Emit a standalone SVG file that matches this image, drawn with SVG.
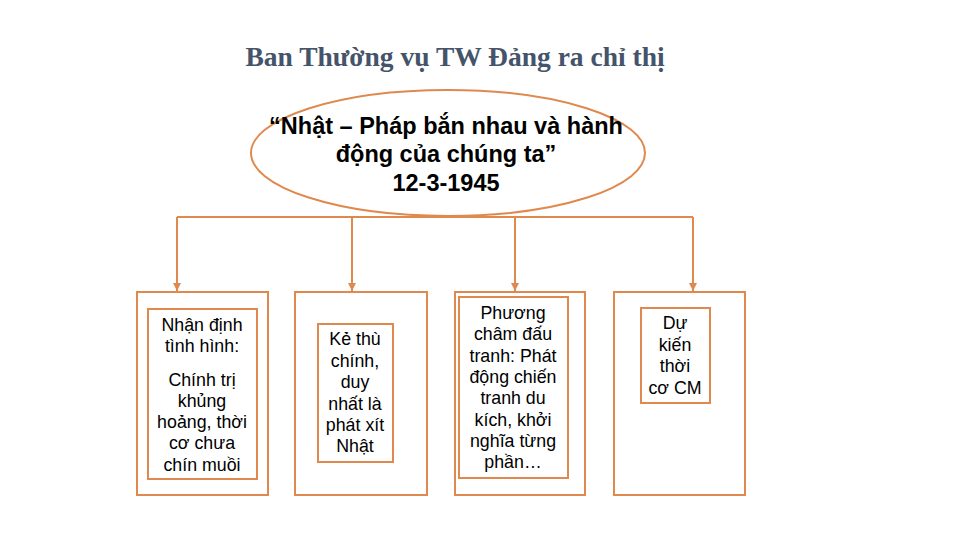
<svg xmlns="http://www.w3.org/2000/svg" width="960" height="540" viewBox="0 0 960 540">
<style>
.box{fill:#fff;stroke:#E0894E;stroke-width:2}
.line{fill:none;stroke:#E0894E;stroke-width:2}
.t{font-family:"Liberation Sans",Arial,sans-serif;font-size:17.8px;fill:#000;text-anchor:middle}
.e{font-family:"Liberation Sans",Arial,sans-serif;font-size:23.5px;font-weight:bold;fill:#000;text-anchor:middle}
.title{font-family:"Liberation Serif","Times New Roman",serif;font-size:27.5px;font-weight:bold;fill:#44546A;text-anchor:middle}
</style>
<defs>
<marker id="arr" viewBox="0 0 10 10" refX="10" refY="5" markerWidth="4" markerHeight="4" orient="auto">
<path d="M0,0 L10,5 L0,10 z" fill="#E0894E"/>
</marker>
</defs>
<rect width="960" height="540" fill="#fff"/>
<text class="title" x="455" y="66">Ban Thường vụ TW Đảng ra chỉ thị</text>
<g id="connectors">
<path class="line" d="M177,217 H693"/>
<path class="line" d="M177,217 V291" marker-end="url(#arr)"/>
<path class="line" d="M352,217 V291" marker-end="url(#arr)"/>
<path class="line" d="M515,217 V291" marker-end="url(#arr)"/>
<path class="line" d="M693,217 V291" marker-end="url(#arr)"/>
</g>
<g id="ellipse">
<ellipse class="box" cx="448" cy="153" rx="197" ry="63"/>
<text class="e" x="446" y="134">“Nhật – Pháp bắn nhau và hành</text>
<text class="e" x="446" y="162">động của chúng ta”</text>
<text class="e" x="446" y="191">12-3-1945</text>
</g>
<g id="node1">
<rect class="box" x="137" y="292" width="131" height="203"/>
<rect class="box" x="148" y="309" width="109" height="170"/>
<text class="t" x="202" y="331">Nhận định</text>
<text class="t" x="202" y="352">tình hình:</text>
<text class="t" x="202" y="386">Chính trị</text>
<text class="t" x="202" y="407">khủng</text>
<text class="t" x="202" y="428">hoảng, thời</text>
<text class="t" x="202" y="449">cơ chưa</text>
<text class="t" x="202" y="471">chín muồi</text>
</g>
<g id="node2">
<rect class="box" x="295" y="292" width="132" height="203"/>
<rect class="box" x="318" y="324" width="75" height="138"/>
<text class="t" x="355" y="345">Kẻ thù</text>
<text class="t" x="355" y="367">chính,</text>
<text class="t" x="355" y="388">duy</text>
<text class="t" x="355" y="410">nhất là</text>
<text class="t" x="355" y="431">phát xít</text>
<text class="t" x="355" y="452">Nhật</text>
</g>
<g id="node3">
<rect class="box" x="455" y="292" width="130" height="203"/>
<rect class="box" x="459" y="297" width="109" height="181"/>
<text class="t" x="513" y="319">Phương</text>
<text class="t" x="513" y="340">châm đấu</text>
<text class="t" x="513" y="362">tranh: Phát</text>
<text class="t" x="513" y="383">động chiến</text>
<text class="t" x="513" y="404">tranh du</text>
<text class="t" x="513" y="426">kích, khởi</text>
<text class="t" x="513" y="447">nghĩa từng</text>
<text class="t" x="513" y="468">phần…</text>
</g>
<g id="node4">
<rect class="box" x="614" y="292" width="131" height="203"/>
<rect class="box" x="641" y="308" width="69" height="95"/>
<text class="t" x="675" y="329">Dự</text>
<text class="t" x="675" y="351">kiến</text>
<text class="t" x="675" y="372">thời</text>
<text class="t" x="675" y="394">cơ CM</text>
</g>
</svg>
